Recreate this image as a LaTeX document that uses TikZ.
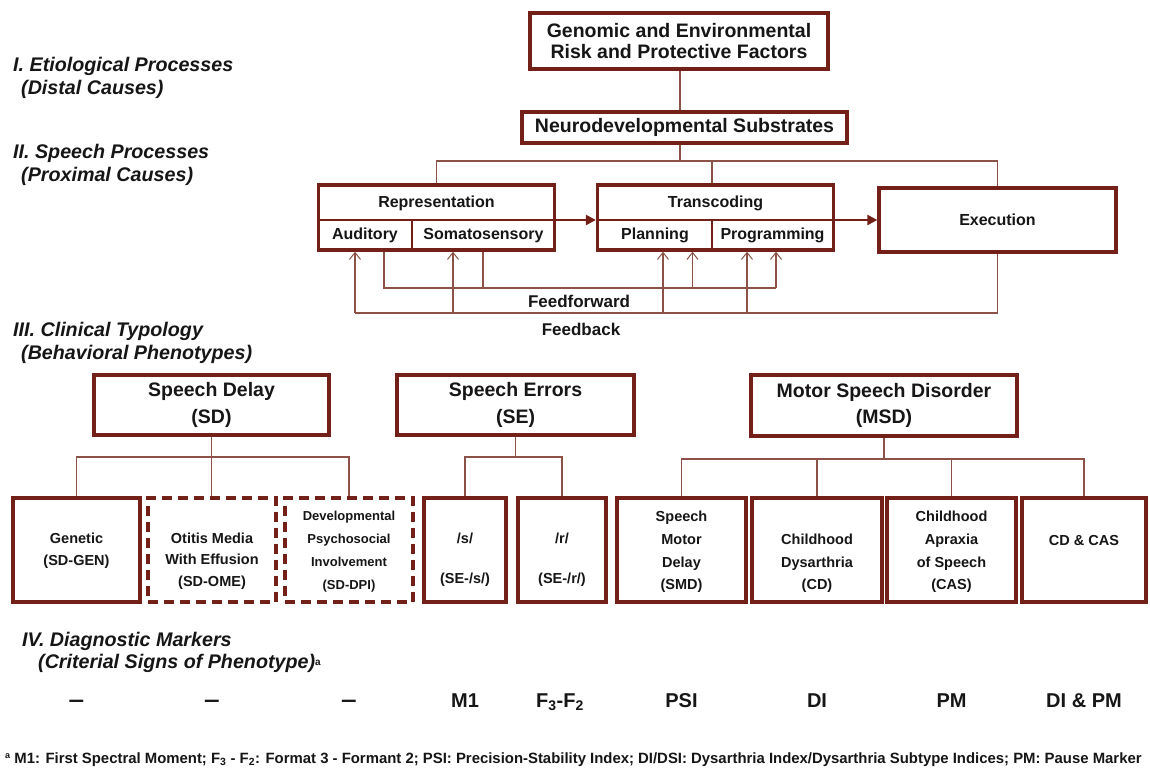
\documentclass[tikz,border=0pt]{standalone}
\usepackage{fontspec}
\setmainfont{Liberation Sans}
\usetikzlibrary{arrows.meta}
\definecolor{boxc}{RGB}{115,32,24}
\definecolor{linec}{RGB}{140,82,72}
\definecolor{txtc}{RGB}{22,22,22}
\begin{document}
\begin{tikzpicture}[x=1pt,y=-1pt,
  box/.style={draw=boxc, line width=3.3pt, inner sep=0pt, align=center, text=txtc,
    font=\bfseries\fontsize{19.5}{21}\selectfont},
  dbox/.style={box, dash pattern=on 10pt off 6pt},
  divline/.style={draw=boxc, line width=2.3pt},
  conn/.style={draw=linec, line width=1.3pt},
  fbarrow/.style={conn, -{Straight Barb[length=7pt,width=11pt,line width=1pt]}},
  bigarrow/.style={draw=boxc, line width=2.4pt, -{Triangle[length=10pt,width=10pt]}},
  lbl/.style={anchor=west, inner sep=0pt, text=txtc, font=\bfseries\itshape\fontsize{19.7}{22}\selectfont},
  celltxt/.style={inner sep=0pt, text=txtc, font=\bfseries\fontsize{16}{19}\selectfont},
  subtxt/.style={inner sep=0pt, align=center, text=txtc, font=\bfseries\fontsize{14.5}{21.5}\selectfont},
  mkr/.style={anchor=base, inner sep=0pt, text=txtc, font=\bfseries\fontsize{20}{22}\selectfont}
]
\useasboundingbox[fill=white] (0,0) rectangle (1150,773);

% ---- left labels
\node[lbl] (l1a) at (13,66) {I. Etiological Processes};
\node[lbl] (l1b) at (21,89) {(Distal Causes)};
\node[lbl] (l2a) at (13,153) {II. Speech Processes};
\node[lbl] (l2b) at (21,176) {(Proximal Causes)};
\node[lbl] (l3a) at (13,331) {III. Clinical Typology};
\node[lbl] (l3b) at (21,354) {(Behavioral Phenotypes)};
\node[lbl] (l4a) at (22,641) {IV. Diagnostic Markers};
\node[lbl] (l4b) at (38,663) {(Criterial Signs of Phenotype)\raisebox{3pt}{\upshape\fontsize{10}{10}\selectfont a}};

% ---- level I / II
\node[box, minimum width=298pt, minimum height=56pt] (top) at (679,41)
  {Genomic and Environmental\\Risk and Protective Factors};
\node[box, minimum width=325pt, minimum height=31pt] (neuro) at (684.5,127.5)
  {Neurodevelopmental Substrates};

\node[box, minimum width=236pt, minimum height=65pt] (rep) at (436.5,217.5) {};
\node[box, minimum width=236pt, minimum height=65pt] (trans) at (715.5,217.5) {};
\node[box, minimum width=237pt, minimum height=64pt, font=\bfseries\fontsize{16}{19}\selectfont] (exec) at (997.5,220) {Execution};

\coordinate (ydiv) at (0,220);
\coordinate (repmid) at (412,220);
\coordinate (trmid) at (712,220);
\draw[divline] (rep.west |- ydiv) -- (rep.east |- ydiv);
\draw[divline] (repmid) -- (repmid |- rep.south);
\draw[divline] (trans.west |- ydiv) -- (trans.east |- ydiv);
\draw[divline] (trmid) -- (trmid |- trans.south);

\node[celltxt] (reptxt) at (436.5,203) {Representation};
\node[celltxt] (aud) at (365,235.5) {Auditory};
\node[celltxt] (soma) at (483.5,235.5) {Somatosensory};
\node[celltxt] (trtxt) at (715.5,203) {Transcoding};
\node[celltxt] (plan) at (655,235.5) {Planning};
\node[celltxt] (prog) at (772.5,235.5) {Programming};

\draw[bigarrow] (rep.east |- ydiv) -- (trans.west |- ydiv);
\draw[bigarrow] (trans.east |- ydiv) -- (exec.west |- ydiv);

\coordinate (hub) at (680,161);
\draw[conn] (top.south -| hub) -- (neuro.north -| hub);
\draw[conn] (neuro.south -| hub) -- (hub);
\draw[conn] (rep.north) |- (hub) -| (exec.north);
\draw[conn] (hub -| trmid) -- (trans.north -| trmid);

% feedback / feedforward
\coordinate (fbA) at (355,313);
\coordinate (fbB) at (453,313);
\coordinate (fbC) at (663,313);
\coordinate (fbD) at (747,313);
\coordinate (ffA) at (384,288);
\coordinate (ffB) at (483,288);
\coordinate (ffC) at (692.5,288);
\coordinate (ffD) at (776,288);
\draw[conn] (exec.south) |- (fbA);
\draw[fbarrow] (fbA) -- (fbA |- rep.south);
\draw[fbarrow] (fbB) -- (fbB |- rep.south);
\draw[fbarrow] (fbC) -- (fbC |- trans.south);
\draw[fbarrow] (fbD) -- (fbD |- trans.south);
\draw[conn] (ffA |- rep.south) -- (ffA) -- (ffD);
\draw[conn] (ffB |- rep.south) -- (ffB);
\draw[fbarrow] (ffC) -- (ffC |- trans.south);
\draw[fbarrow] (ffD) -- (ffD |- trans.south);
\node[celltxt, font=\bfseries\fontsize{17}{19}\selectfont] (fftxt) at (579,301) {Feedforward};
\node[celltxt, font=\bfseries\fontsize{17}{19}\selectfont] (fbtxt) at (581,329) {Feedback};

% ---- level III
\node[box, minimum width=235pt, minimum height=60pt, font=\bfseries\fontsize{19.5}{26.5}\selectfont] (sd) at (211.5,405) {Speech Delay\\(SD)};
\node[box, minimum width=237pt, minimum height=60pt, font=\bfseries\fontsize{19.5}{26.5}\selectfont] (se) at (515.5,405) {Speech Errors\\(SE)};
\node[box, minimum width=266pt, minimum height=61pt, font=\bfseries\fontsize{19.5}{26.5}\selectfont] (msd) at (884,405.5) {Motor Speech Disorder\\(MSD)};

% subtype boxes
\node[box, minimum width=127pt, minimum height=104pt] (gen) at (76.5,550) {};
\node[dbox, minimum width=128pt, minimum height=104pt] (ome) at (212,550) {};
\node[dbox, minimum width=128pt, minimum height=104pt] (dpi) at (349,550) {};
\node[box, minimum width=82pt, minimum height=104pt] (ss) at (465,550) {};
\node[box, minimum width=88pt, minimum height=104pt] (rr) at (562,550) {};
\node[box, minimum width=129pt, minimum height=104pt] (smd) at (681.5,550) {};
\node[box, minimum width=130pt, minimum height=104pt] (cd) at (817,550) {};
\node[box, minimum width=129pt, minimum height=104pt] (cas) at (951.5,550) {};
\node[box, minimum width=124pt, minimum height=104pt] (cdcas) at (1084,550) {};

\node[subtxt] (gent) at (76.5,550.5) {Genetic\\(SD-GEN)};
\node[subtxt] (omet) at (212,561) {Otitis Media\\With Effusion\\(SD-OME)};
\node[subtxt, font=\bfseries\fontsize{13}{23}\selectfont] (dpit) at (349,552) {Developmental\\Psychosocial\\Involvement\\(SD-DPI)};
\node[subtxt] (sst) at (465,560) {/s/\\[18.5pt](SE-/s/)};
\node[subtxt] (rrt) at (562,560) {/r/\\[18.5pt](SE-/r/)};
\node[subtxt, font=\bfseries\fontsize{14.5}{22.7}\selectfont] (smdt) at (681.5,552) {Speech\\Motor\\Delay\\(SMD)};
\node[subtxt, font=\bfseries\fontsize{14.5}{22.7}\selectfont] (cdt) at (817,563.5) {Childhood\\Dysarthria\\(CD)};
\node[subtxt, font=\bfseries\fontsize{14.5}{22.7}\selectfont] (cast) at (951.5,552) {Childhood\\Apraxia\\of Speech\\(CAS)};
\node[subtxt] (cdcast) at (1084,541) {CD \& CAS};

% tree connectors
\coordinate (ysd) at (0,457);
\coordinate (ymsd) at (0,459);
\draw[conn] (sd.south) -- (sd.south |- ome.north);
\draw[conn] (gen.north) |- (sd.south |- ysd) -| (dpi.north);
\draw[conn] (se.south) -- (se.south |- ysd);
\draw[conn] (ss.north) |- (se.south |- ysd) -| (rr.north);
\draw[conn] (msd.south) -- (msd.south |- ymsd);
\draw[conn] (smd.north) |- (msd.south |- ymsd) -| (cdcas.north);
\draw[conn] (cd.north) -- (cd.north |- ymsd);
\draw[conn] (cas.north) -- (cas.north |- ymsd);

% ---- level IV markers
\node[mkr] (m1) at (76.5,707) {\scalebox{1.4}[1.15]{–}};
\node[mkr] (m2) at (212,707) {\scalebox{1.4}[1.15]{–}};
\node[mkr] (m3) at (349,707) {\scalebox{1.4}[1.15]{–}};
\node[mkr] (m4) at (465,707) {M1};
\node[mkr] (m5) at (560,707) {F\textsubscript{3}-F\textsubscript{2}};
\node[mkr] (m6) at (681.5,707) {PSI};
\node[mkr] (m7) at (817,707) {DI};
\node[mkr] (m8) at (951.5,707) {PM};
\node[mkr] (m9) at (1084,707) {DI \& PM};

% ---- footnote
\node[anchor=base west, inner sep=0pt, text=txtc, font=\bfseries\fontsize{14.9}{16}\selectfont] (foot) at (5,763)
  {\raisebox{4.5pt}{\fontsize{9}{9}\selectfont a} M1: First Spectral Moment; F\textsubscript{3} - F\textsubscript{2}: Format 3 - Formant 2; PSI: Precision-Stability Index; DI/DSI: Dysarthria Index/Dysarthria Subtype Indices; PM: Pause Marker};
\end{tikzpicture}
\end{document}
